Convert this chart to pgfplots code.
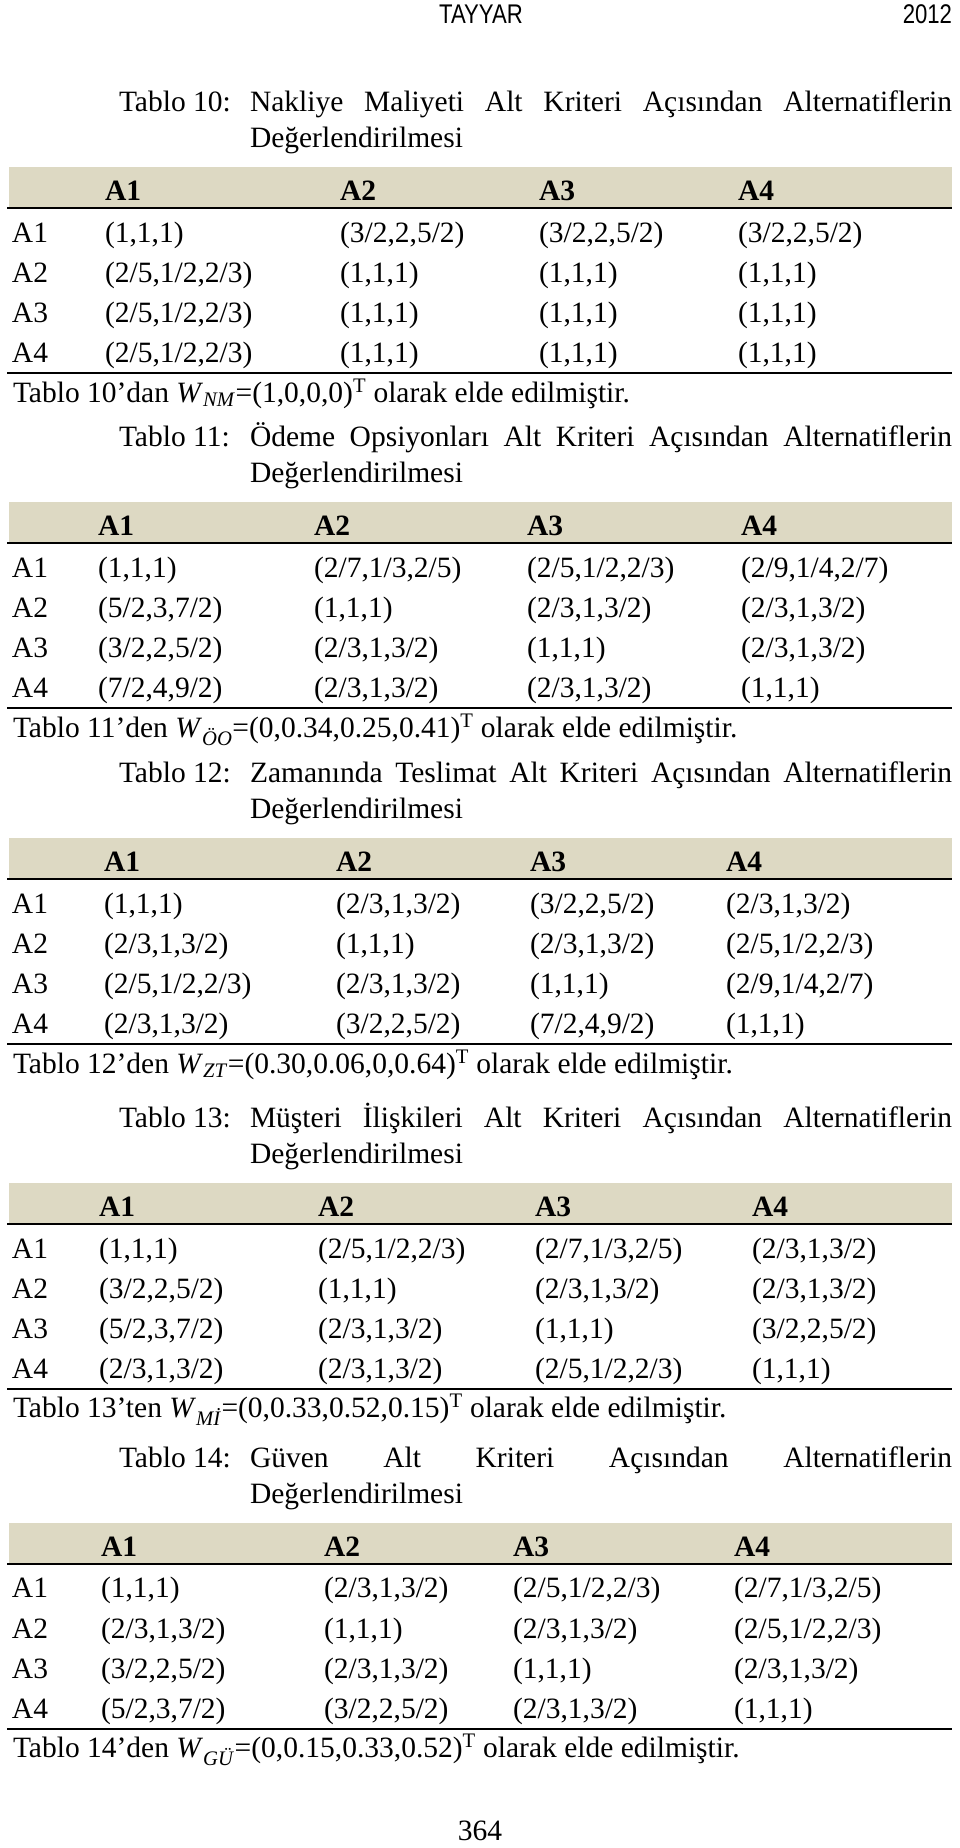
\documentclass[border=0pt]{standalone}
\usepackage{fontspec}
\setmainfont{Liberation Serif}
\newfontfamily\hdr{Liberation Sans}[FakeStretch=0.82]
\usepackage{pgfplots}
\pgfplotsset{compat=1.18}
\definecolor{bandcol}{RGB}{221,217,195}

\newcommand\tbldeco[1]{%
  \fill[bandcol] (axis cs:9,{#1+59}) rectangle (axis cs:952,{#1+100});
  \draw[line width=2.4pt] (axis cs:7,{#1+100}) -- (axis cs:952,{#1+100});
  \draw[line width=1.6pt] (axis cs:7,{#1+265}) -- (axis cs:952,{#1+265});
}
\newcommand\tcap[3]{%
  \node[anchor=base west] at (119,{#1+3}) {Tablo #2:};
  \node[anchor=base west] at (250,{#1+3}) {\makebox[702pt][s]{#3}};
  \node[anchor=base west] at (250,{#1+39}) {Değerlendirilmesi};
}
\newcommand\cols[4]{\def\xa{#1}\def\xb{#2}\def\xc{#3}\def\xd{#4}}
\newcommand\trow[6]{%
  \node[anchor=base west] at (12,#1) {#2};
  \node[anchor=base west] at (\xa,#1) {#3};
  \node[anchor=base west] at (\xb,#1) {#4};
  \node[anchor=base west] at (\xc,#1) {#5};
  \node[anchor=base west] at (\xd,#1) {#6};
}
\newcommand\thead[1]{\trow{#1+92}{}{\textbf{A1}}{\textbf{A2}}{\textbf{A3}}{\textbf{A4}}}
\newcommand\W[2]{\textit{W}\textsubscript{\textit{#1}}=#2\textsuperscript{T}}

\begin{document}
\begin{tikzpicture}
\begin{axis}[at={(0,0)}, anchor=north west, scale only axis,
  width=960pt, height=1848pt, xmin=0, xmax=960, ymin=0, ymax=1848,
  y dir=reverse, hide axis, clip=false]
\tbldeco{108}
\tbldeco{443}
\tbldeco{779}
\tbldeco{1124}
\tbldeco{1464}
\end{axis}
\begin{scope}[x=1pt, y=-1pt, every node/.style={inner sep=0pt, outer sep=0pt, font=\fontsize{29.5}{35}\selectfont}]
\node[anchor=base, font=\hdr\fontsize{27}{30}\selectfont] at (481,23) {TAYYAR};
\node[anchor=base east, font=\hdr\fontsize{27}{30}\selectfont] at (952,23) {2012};
% Tablo 10
\tcap{108}{10}{Nakliye Maliyeti Alt Kriteri Açısından Alternatiflerin}
\cols{105}{340}{539}{738}
\thead{108}
\trow{242}{A1}{(1,1,1)}{(3/2,2,5/2)}{(3/2,2,5/2)}{(3/2,2,5/2)}
\trow{282}{A2}{(2/5,1/2,2/3)}{(1,1,1)}{(1,1,1)}{(1,1,1)}
\trow{322}{A3}{(2/5,1/2,2/3)}{(1,1,1)}{(1,1,1)}{(1,1,1)}
\trow{362}{A4}{(2/5,1/2,2/3)}{(1,1,1)}{(1,1,1)}{(1,1,1)}
\node[anchor=base west] at (13,402) {Tablo 10’dan \W{NM}{(1,0,0,0)} olarak elde edilmiştir.};
% Tablo 11
\tcap{443}{11}{Ödeme Opsiyonları Alt Kriteri Açısından Alternatiflerin}
\cols{98}{314}{527}{741}
\thead{443}
\trow{577}{A1}{(1,1,1)}{(2/7,1/3,2/5)}{(2/5,1/2,2/3)}{(2/9,1/4,2/7)}
\trow{617}{A2}{(5/2,3,7/2)}{(1,1,1)}{(2/3,1,3/2)}{(2/3,1,3/2)}
\trow{657}{A3}{(3/2,2,5/2)}{(2/3,1,3/2)}{(1,1,1)}{(2/3,1,3/2)}
\trow{697}{A4}{(7/2,4,9/2)}{(2/3,1,3/2)}{(2/3,1,3/2)}{(1,1,1)}
\node[anchor=base west] at (13,737) {Tablo 11’den \W{ÖO}{(0,0.34,0.25,0.41)} olarak elde edilmiştir.};
% Tablo 12
\tcap{779}{12}{Zamanında Teslimat Alt Kriteri Açısından Alternatiflerin}
\cols{104}{336}{530}{726}
\thead{779}
\trow{913}{A1}{(1,1,1)}{(2/3,1,3/2)}{(3/2,2,5/2)}{(2/3,1,3/2)}
\trow{953}{A2}{(2/3,1,3/2)}{(1,1,1)}{(2/3,1,3/2)}{(2/5,1/2,2/3)}
\trow{993}{A3}{(2/5,1/2,2/3)}{(2/3,1,3/2)}{(1,1,1)}{(2/9,1/4,2/7)}
\trow{1033}{A4}{(2/3,1,3/2)}{(3/2,2,5/2)}{(7/2,4,9/2)}{(1,1,1)}
\node[anchor=base west] at (13,1073) {Tablo 12’den \W{ZT}{(0.30,0.06,0,0.64)} olarak elde edilmiştir.};
% Tablo 13
\tcap{1124}{13}{Müşteri İlişkileri Alt Kriteri Açısından Alternatiflerin}
\cols{99}{318}{535}{752}
\thead{1124}
\trow{1258}{A1}{(1,1,1)}{(2/5,1/2,2/3)}{(2/7,1/3,2/5)}{(2/3,1,3/2)}
\trow{1298}{A2}{(3/2,2,5/2)}{(1,1,1)}{(2/3,1,3/2)}{(2/3,1,3/2)}
\trow{1338}{A3}{(5/2,3,7/2)}{(2/3,1,3/2)}{(1,1,1)}{(3/2,2,5/2)}
\trow{1378}{A4}{(2/3,1,3/2)}{(2/3,1,3/2)}{(2/5,1/2,2/3)}{(1,1,1)}
\node[anchor=base west] at (13,1417) {Tablo 13’ten \W{Mİ}{(0,0.33,0.52,0.15)} olarak elde edilmiştir.};
% Tablo 14
\tcap{1464}{14}{Güven Alt Kriteri Açısından Alternatiflerin}
\cols{101}{324}{513}{734}
\thead{1464}
\trow{1597}{A1}{(1,1,1)}{(2/3,1,3/2)}{(2/5,1/2,2/3)}{(2/7,1/3,2/5)}
\trow{1638}{A2}{(2/3,1,3/2)}{(1,1,1)}{(2/3,1,3/2)}{(2/5,1/2,2/3)}
\trow{1678}{A3}{(3/2,2,5/2)}{(2/3,1,3/2)}{(1,1,1)}{(2/3,1,3/2)}
\trow{1718}{A4}{(5/2,3,7/2)}{(3/2,2,5/2)}{(2/3,1,3/2)}{(1,1,1)}
\node[anchor=base west] at (13,1757) {Tablo 14’den \W{GÜ}{(0,0.15,0.33,0.52)} olarak elde edilmiştir.};
\node[anchor=base] at (480,1840) {364};
\end{scope}
\pgfresetboundingbox
\path[use as bounding box] (0,0) rectangle (960pt,-1848pt);
\end{tikzpicture}
\end{document}
